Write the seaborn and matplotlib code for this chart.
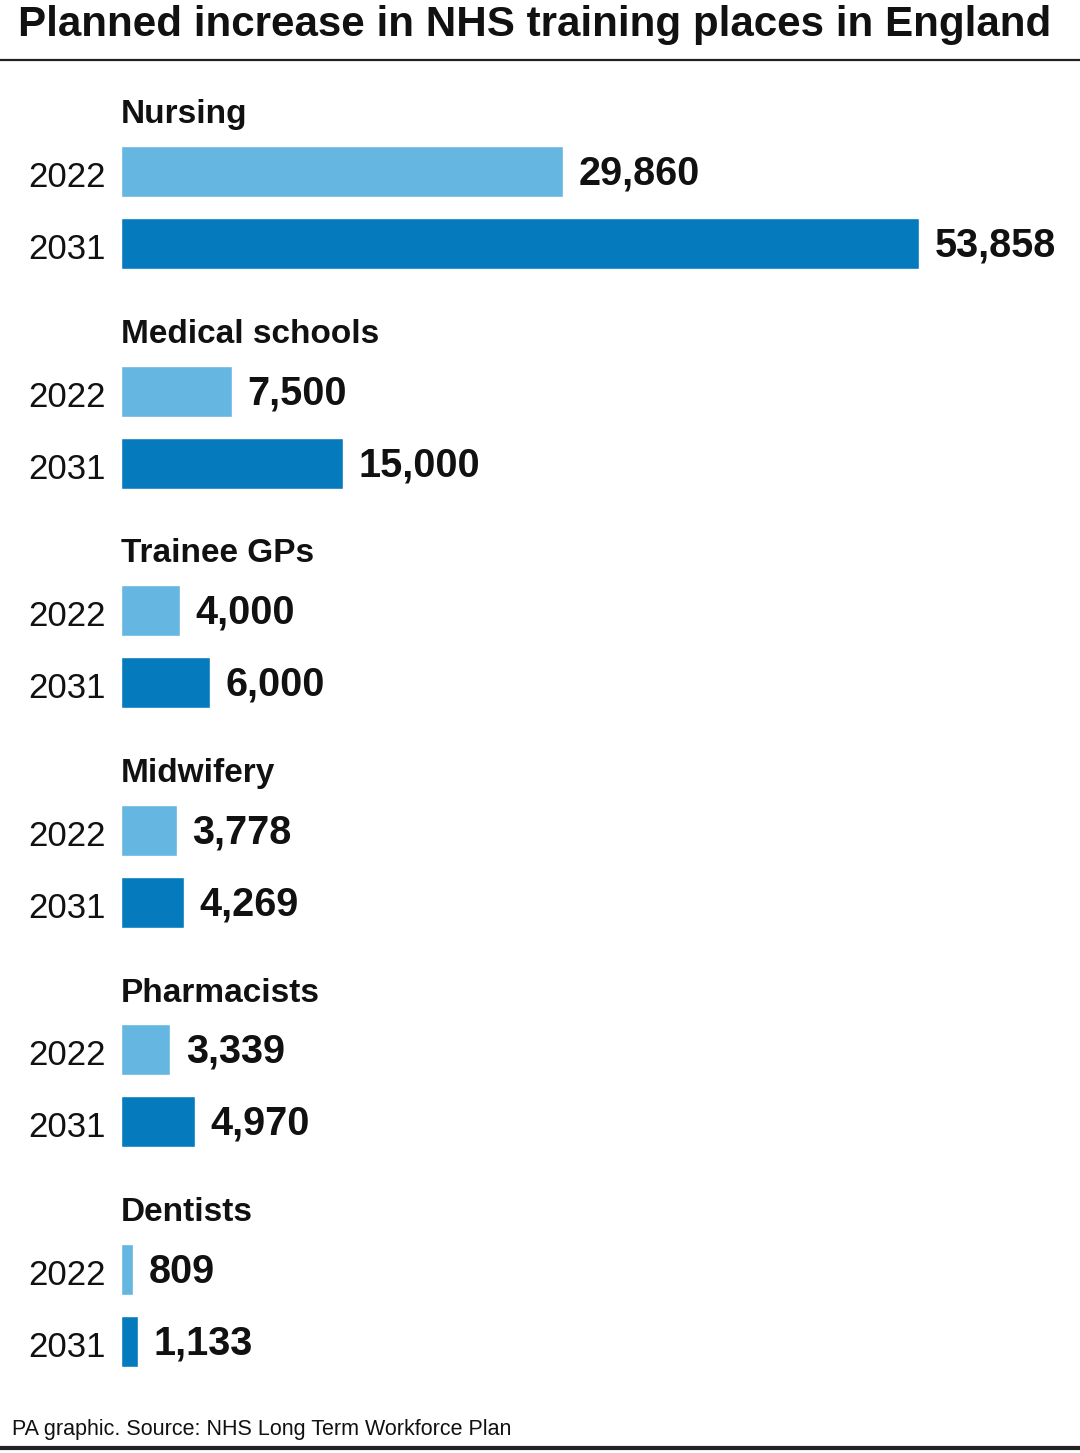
import numpy as np
import pandas as pd
import matplotlib
matplotlib.use("Agg")
import matplotlib.pyplot as plt
from matplotlib.lines import Line2D
import matplotlib.transforms as mtransforms
import seaborn as sns

# Planned increase in NHS training places in England (PA graphic)

categories = ["Nursing", "Medical schools", "Trainee GPs", "Midwifery", "Pharmacists", "Dentists"]
years = ["2022", "2031"]
values_2022 = [29860, 7500, 4000, 3778, 3339, 809]
values_2031 = [53858, 15000, 6000, 4269, 4970, 1133]

title = "Planned increase in NHS training places in England"
source = "PA graphic. Source: NHS Long Term Workforce Plan"

light_blue = "#65b6e0"
dark_blue = "#057bbd"

# layout: one unit = distance between the two bars of a group
group_step = 3.05
header_offset = -0.79

rows = []
for i, cat in enumerate(categories):
    for j, (yr, vals) in enumerate(zip(years, [values_2022, values_2031])):
        rows.append({"category": cat, "year": yr, "value": vals[i],
                     "pos": i * group_step + j})
df = pd.DataFrame(rows)

sns.set_theme(style="white")
plt.rcParams["font.family"] = ["Liberation Sans", "DejaVu Sans"]

W, H = 1080, 1453
fig = plt.figure(figsize=(W / 100, H / 100), dpi=100)

# axes: bars start at x=121px, longest bar ends at x=919px
ax_left, ax_right = 121, 919
ax_top, ax_bottom = 80, 1390
ax = fig.add_axes([ax_left / W, 1 - ax_bottom / H,
                   (ax_right - ax_left) / W, (ax_bottom - ax_top) / H])

sns.barplot(data=df, x="value", y="pos", hue="year", orient="h",
            native_scale=True, dodge=False, width=0.71,
            palette={"2022": light_blue, "2031": dark_blue},
            legend=False, ax=ax, saturation=1)

ax.set_xlim(0, df["value"].max())
unit = 72.0
ax.set_ylim((ax_bottom - 171.5) / unit, -(171.5 - ax_top) / unit)

ax.set_yticks(df["pos"].tolist())
ax.set_yticklabels(df["year"].tolist())
ax.tick_params(axis="y", length=0, pad=11, labelsize=25, labelcolor="#111111")
# nudge year labels down a little
shift = mtransforms.ScaledTranslation(0, -2.5 / 100, fig.dpi_scale_trans)
for lbl in ax.get_yticklabels():
    lbl.set_transform(lbl.get_transform() + shift)
ax.set_xticks([])
ax.set_xlabel("")
ax.set_ylabel("")
for s in ax.spines.values():
    s.set_visible(False)

# value labels
for _, r in df.iterrows():
    ax.annotate(f"{r['value']:,}", (r["value"], r["pos"]),
                xytext=(11, -1.5), textcoords="offset points",
                va="center", ha="left", fontsize=28.5, fontweight="bold",
                color="#111111", annotation_clip=False)

# category headers
for i, cat in enumerate(categories):
    ax.text(0, i * group_step + header_offset, cat, ha="left", va="center",
            fontsize=24, fontweight="bold", color="#111111", clip_on=False,
            transform=ax.transData)

# title, rules and source
fig.text(18 / W, 1 - 25 / H, title, ha="left", va="center",
         fontsize=30.3, fontweight="bold", color="#111111")
fig.add_artist(Line2D([0, 1], [1 - 60 / H] * 2, lw=1.6, color="#222222"))
fig.text(12 / W, 1 - 1429 / H, source, ha="left", va="center",
         fontsize=15.5, color="#111111")
fig.add_artist(Line2D([0, 1], [1 - 1448 / H] * 2, lw=3, color="#222222"))

fig.savefig("out.png", dpi=100, facecolor="white")
